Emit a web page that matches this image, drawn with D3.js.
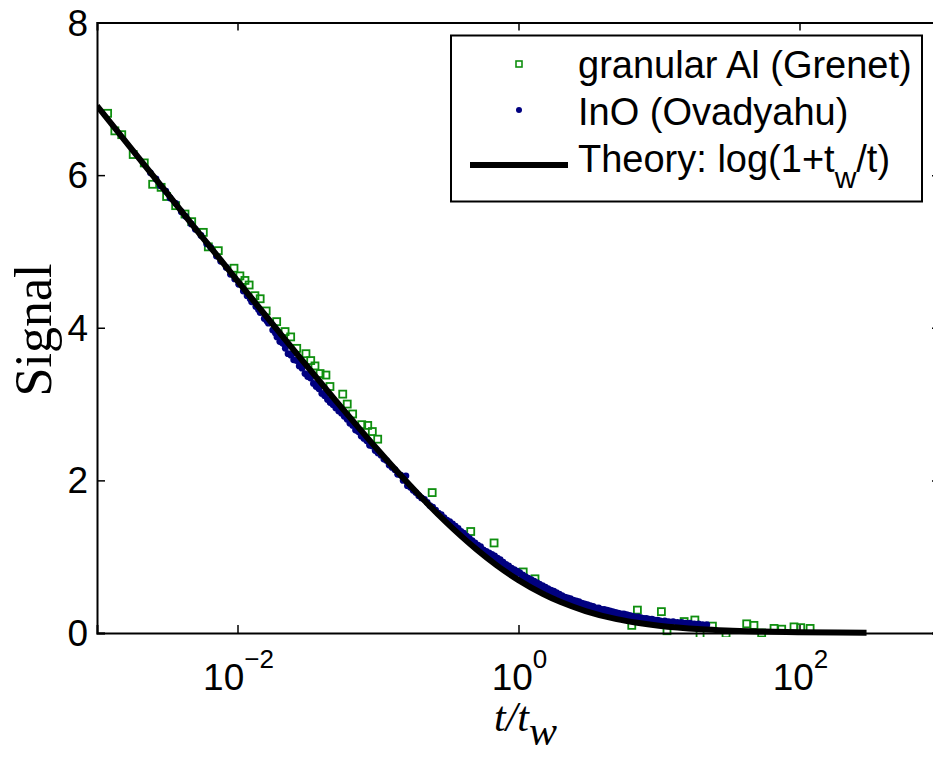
<!DOCTYPE html>
<html>
<head>
<meta charset="utf-8">
<script src="https://cdn.jsdelivr.net/npm/d3@7"></script>
<style>
  body { margin: 0; background: #fff; }
  svg { display: block; }
  text { font-family: "Liberation Sans", Arial, Helvetica, sans-serif; }
</style>
</head>
<body>
<svg width="933" height="757"></svg>
<script>
// x tick values and y tick values
var xTicks = [1e-2, 1, 1e2];
var xTickExp = ["\u22122", "0", "2"];
var yTicks = [0, 2, 4, 6, 8];

// granular Al (Grenet): [t/tw, signal]
var grenet = [
  [0.00119, 6.81], [0.00134, 6.58], [0.00150, 6.53], [0.00181, 6.27], [0.00217, 6.16],
  [0.00249, 5.88], [0.00286, 5.84], [0.00313, 5.72], [0.00363, 5.60], [0.00423, 5.49],
  [0.00472, 5.39], [0.00571, 5.25], [0.00620, 5.06], [0.00730, 5.01], [0.00944, 4.78],
  [0.0104, 4.68], [0.0113, 4.62], [0.0121, 4.56], [0.0133, 4.42], [0.0145, 4.38],
  [0.0160, 4.22], [0.0190, 4.08], [0.0218, 3.95], [0.0239, 3.88], [0.0264, 3.73],
  [0.0307, 3.66], [0.0332, 3.57], [0.0356, 3.50], [0.0387, 3.40], [0.0426, 3.38],
  [0.0455, 3.23], [0.0561, 3.13], [0.0604, 3.00], [0.0660, 2.87], [0.0766, 2.73],
  [0.0845, 2.72], [0.0911, 2.64], [0.0995, 2.54], [0.243, 1.84], [0.457, 1.33],
  [0.670, 1.18], [1.08, 0.80], [1.31, 0.71], [6.40, 0.10], [7.02, 0.30],
  [10.4, 0.28], [11.4, 0.03], [15.1, 0.15], [18.0, 0.17], [19.6, -0.02],
  [24.0, 0.09], [30.0, -0.01], [42.1, 0.12], [47.4, 0.10], [53.8, 0.00],
  [65.9, 0.06], [74.7, 0.05], [91.4, 0.08], [102, 0.07], [119, 0.06]
];

// InO (Ovadyahu): [t/tw, signal]
var ovadyahu = [
  [0.00240, 6.03], [0.00263, 5.95], [0.00282, 5.86], [0.00309, 5.79], [0.00331, 5.70],
  [0.00363, 5.63], [0.00398, 5.52], [0.00427, 5.46], [0.00468, 5.36], [0.00501, 5.29],
  [0.00550, 5.21], [0.00603, 5.10], [0.00646, 5.05], [0.00708, 4.94], [0.00759, 4.87],
  [0.00832, 4.79], [0.00891, 4.70], [0.00955, 4.64], [0.0102, 4.57], [0.0110, 4.48],
  [0.0117, 4.42], [0.0126, 4.34], [0.0135, 4.28], [0.0145, 4.20], [0.0155, 4.12],
  [0.0166, 4.06], [0.0178, 3.97], [0.0191, 3.88], [0.0200, 3.82], [0.0209, 3.80],
  [0.0219, 3.73], [0.0229, 3.66], [0.0240, 3.64], [0.0251, 3.58], [0.0263, 3.57],
  [0.0275, 3.50], [0.0288, 3.47], [0.0302, 3.40], [0.0316, 3.36], [0.0331, 3.34],
  [0.0347, 3.27], [0.0363, 3.23], [0.0380, 3.20], [0.0398, 3.14], [0.0417, 3.11],
  [0.0437, 3.06], [0.0457, 3.02], [0.0479, 2.99], [0.0501, 2.95], [0.0525, 2.91],
  [0.0550, 2.88], [0.0575, 2.84], [0.0603, 2.80], [0.0631, 2.75], [0.0661, 2.72],
  [0.0692, 2.66], [0.0724, 2.64], [0.0759, 2.58], [0.0794, 2.55], [0.0832, 2.52],
  [0.0871, 2.46], [0.0912, 2.45], [0.0955, 2.39], [0.100, 2.36], [0.105, 2.33],
  [0.110, 2.28], [0.115, 2.26], [0.120, 2.20], [0.126, 2.17], [0.132, 2.14],
  [0.138, 2.08], [0.145, 2.07], [0.151, 2.00], [0.158, 2.06], [0.162, 1.93],
  [0.170, 1.91], [0.178, 1.87], [0.186, 1.84], [0.195, 1.80], [0.204, 1.77],
  [0.214, 1.75], [0.224, 1.71], [0.234, 1.67], [0.245, 1.65], [0.257, 1.61],
  [0.269, 1.57], [0.282, 1.55], [0.295, 1.51], [0.309, 1.48], [0.324, 1.46],
  [0.339, 1.43], [0.355, 1.40], [0.372, 1.37], [0.389, 1.33], [0.407, 1.31],
  [0.427, 1.27], [0.447, 1.24], [0.468, 1.21], [0.490, 1.18], [0.513, 1.15],
  [0.537, 1.13], [0.562, 1.09], [0.589, 1.07], [0.617, 1.05], [0.646, 1.03],
  [0.676, 1.01], [0.708, 0.98], [0.741, 0.96], [0.776, 0.93], [0.813, 0.90],
  [0.851, 0.88], [0.891, 0.85], [0.933, 0.83], [0.977, 0.81], [1.02, 0.79],
  [1.07, 0.76], [1.12, 0.74], [1.17, 0.72], [1.23, 0.70], [1.29, 0.68],
  [1.35, 0.66], [1.41, 0.64], [1.48, 0.62], [1.55, 0.60], [1.62, 0.58],
  [1.70, 0.56], [1.78, 0.55], [1.86, 0.53], [1.95, 0.51], [2.04, 0.49],
  [2.14, 0.47], [2.24, 0.46], [2.34, 0.45], [2.45, 0.43], [2.57, 0.42],
  [2.69, 0.41], [2.82, 0.39], [2.95, 0.38], [3.09, 0.37], [3.24, 0.36],
  [3.39, 0.35], [3.55, 0.33], [3.72, 0.33], [3.89, 0.31], [4.07, 0.31],
  [4.27, 0.30], [4.47, 0.29], [4.68, 0.28], [4.90, 0.27], [5.13, 0.26],
  [5.37, 0.25], [5.62, 0.25], [5.89, 0.24], [6.17, 0.23], [6.46, 0.22],
  [6.76, 0.21], [7.08, 0.21], [7.41, 0.20], [7.76, 0.19], [8.13, 0.19],
  [8.51, 0.18], [8.91, 0.18], [9.33, 0.17], [9.77, 0.17], [10.2, 0.16],
  [11.0, 0.16], [11.7, 0.15], [12.6, 0.15], [13.5, 0.14], [14.5, 0.14],
  [15.5, 0.13], [16.6, 0.13], [17.8, 0.12], [19.1, 0.12], [20.4, 0.11],
  [21.9, 0.11],
  // second row, closer to the curve
  [0.0123, 4.38], [0.0141, 4.24], [0.0162, 4.09], [0.0186, 3.93], [0.0214, 3.79],
  [0.0245, 3.66], [0.0282, 3.53], [0.0324, 3.39], [0.0372, 3.27], [0.0427, 3.15],
  [0.0490, 3.01], [0.0562, 2.89], [0.0646, 2.77], [0.0741, 2.63], [0.0851, 2.51],
  [0.0977, 2.40],
  [0.501, 1.15], [0.550, 1.09], [0.603, 1.03], [0.661, 0.98], [0.724, 0.92],
  [0.794, 0.87], [0.871, 0.82], [0.955, 0.77], [1.05, 0.72], [1.15, 0.68],
  [1.26, 0.64], [1.38, 0.60], [1.51, 0.56], [1.66, 0.52], [1.82, 0.49],
  [2.00, 0.46], [2.19, 0.43], [2.40, 0.40], [2.63, 0.37], [2.88, 0.35],
  [3.16, 0.32], [3.47, 0.30], [3.80, 0.28], [4.17, 0.26], [4.57, 0.25],
  [5.01, 0.23], [5.50, 0.22], [6.03, 0.20], [6.61, 0.19], [7.24, 0.18],
  [7.94, 0.17], [8.71, 0.16], [9.55, 0.15], [10.5, 0.14], [12.0, 0.13],
  [13.8, 0.12], [15.8, 0.11], [18.2, 0.10]
];

// Theory: log(1 + tw/t), read at these t/tw
var theory = [
  [0.001, 6.909], [0.002, 6.217], [0.003, 5.812], [0.005, 5.303], [0.01, 4.615],
  [0.02, 3.932], [0.03, 3.536], [0.05, 3.045], [0.07, 2.727], [0.1, 2.398],
  [0.15, 2.037], [0.2, 1.792], [0.3, 1.466], [0.5, 1.099], [0.7, 0.887],
  [1, 0.693], [1.5, 0.511], [2, 0.405], [3, 0.288], [5, 0.182],
  [7, 0.134], [10, 0.095], [20, 0.049], [30, 0.033], [50, 0.020],
  [100, 0.010], [300, 0.003]
];

var mLeft = 97, mRight = 940, mTop = 22.5, mBottom = 633;

var svg = d3.select("svg");

var x = d3.scaleLog().domain([1e-3, 1e3]).range([mLeft, mRight]);
var y = d3.scaleLinear().domain([0, 8]).range([mBottom, mTop]);

svg.append("clipPath").attr("id", "plot")
  .append("rect")
  .attr("x", mLeft).attr("y", mTop)
  .attr("width", mRight - mLeft).attr("height", mBottom - mTop + 4);

var plot = svg.append("g").attr("clip-path", "url(#plot)");

// green squares
plot.selectAll("rect.grenet")
  .data(grenet)
  .enter()
  .append("rect")
  .attr("class", "grenet")
  .attr("x", function(d) { return x(d[0]) - 3.5; })
  .attr("y", function(d) { return y(d[1]) - 3.5; })
  .attr("width", 7)
  .attr("height", 7)
  .attr("fill", "none")
  .attr("stroke", "#0f8f0f")
  .attr("stroke-width", 1.8);

// blue dots
plot.selectAll("circle.ino")
  .data(ovadyahu)
  .enter()
  .append("circle")
  .attr("class", "ino")
  .attr("cx", function(d) { return x(d[0]); })
  .attr("cy", function(d) { return y(d[1]); })
  .attr("r", 3.4)
  .attr("fill", "#000080");

// theory curve
var line = d3.line()
  .x(function(d) { return x(d[0]); })
  .y(function(d) { return y(d[1]); })
  .curve(d3.curveMonotoneX);

plot.append("path")
  .datum(theory)
  .attr("d", line)
  .attr("fill", "none")
  .attr("stroke", "#000")
  .attr("stroke-width", 6);

// axes (ticks point inwards)
var tickLen = 8;

svg.append("g")
  .attr("transform", "translate(0," + mBottom + ")")
  .call(d3.axisBottom(x).tickValues(xTicks).tickSize(-tickLen).tickFormat(""));

svg.append("g")
  .attr("transform", "translate(0," + mTop + ")")
  .call(d3.axisTop(x).tickValues(xTicks).tickSize(-tickLen).tickFormat(""));

svg.append("g")
  .attr("transform", "translate(" + mLeft + ",0)")
  .call(d3.axisLeft(y).tickValues(yTicks).tickSize(-tickLen).tickFormat(""));

svg.append("g")
  .attr("transform", "translate(" + mRight + ",0)")
  .call(d3.axisRight(y).tickValues(yTicks).tickSize(-tickLen).tickFormat(""));

svg.selectAll(".domain").attr("stroke", "#000").attr("stroke-width", 2);
svg.selectAll(".tick line").attr("stroke", "#000").attr("stroke-width", 1.5);

// x tick labels with exponents
xTicks.forEach(function(v, i) {
  var t = svg.append("text")
    .attr("x", x(v) + 1)
    .attr("y", mBottom + 57)
    .attr("text-anchor", "middle")
    .attr("font-size", 37)
    .attr("fill", "#000");
  t.append("tspan").text("10");
  t.append("tspan").attr("dy", -22).attr("font-size", 26).text(xTickExp[i]);
});

// y tick labels
svg.selectAll("text.ylab")
  .data(yTicks)
  .enter()
  .append("text")
  .attr("class", "ylab")
  .attr("x", mLeft - 9)
  .attr("y", function(d) { return y(d) + 13; })
  .attr("text-anchor", "end")
  .attr("font-size", 37)
  .attr("fill", "#000")
  .text(function(d) { return d; });

// axis titles
svg.append("text")
  .attr("transform", "translate(51,330) rotate(-90)")
  .attr("text-anchor", "middle")
  .style("font-family", "'Liberation Serif', 'Times New Roman', serif")
  .attr("font-size", 52)
  .text("Signal");

var xt = svg.append("text")
  .attr("x", 494)
  .attr("y", 731)
  .style("font-family", "'Liberation Serif', 'Times New Roman', serif")
  .style("font-style", "italic")
  .attr("font-size", 42);
xt.append("tspan").text("t/t");
xt.append("tspan").attr("dy", 14).text("w");

// legend
var legend = svg.append("g");
legend.append("rect")
  .attr("x", 451).attr("y", 35.5)
  .attr("width", 471).attr("height", 166)
  .attr("fill", "#fff")
  .attr("stroke", "#000")
  .attr("stroke-width", 2);

legend.append("rect")
  .attr("x", 516).attr("y", 61)
  .attr("width", 6).attr("height", 6)
  .attr("fill", "none")
  .attr("stroke", "#0f8f0f")
  .attr("stroke-width", 1.6);

legend.append("circle")
  .attr("cx", 519).attr("cy", 110)
  .attr("r", 3)
  .attr("fill", "#000080");

legend.append("line")
  .attr("x1", 470).attr("x2", 568)
  .attr("y1", 165).attr("y2", 165)
  .attr("stroke", "#000")
  .attr("stroke-width", 6);

var legendText = [
  "granular Al (Grenet)",
  "InO (Ovadyahu)"
];
legendText.forEach(function(s, i) {
  legend.append("text")
    .attr("x", 578).attr("y", 78 + i * 47)
    .attr("font-size", 38)
    .text(s);
});
var th = legend.append("text")
  .attr("x", 578).attr("y", 172)
  .attr("font-size", 38);
th.append("tspan").text("Theory: log(1+t");
th.append("tspan").attr("dy", 16).attr("font-size", 30).text("w");
th.append("tspan").attr("dy", -16).text("/t)");
</script>
</body>
</html>
